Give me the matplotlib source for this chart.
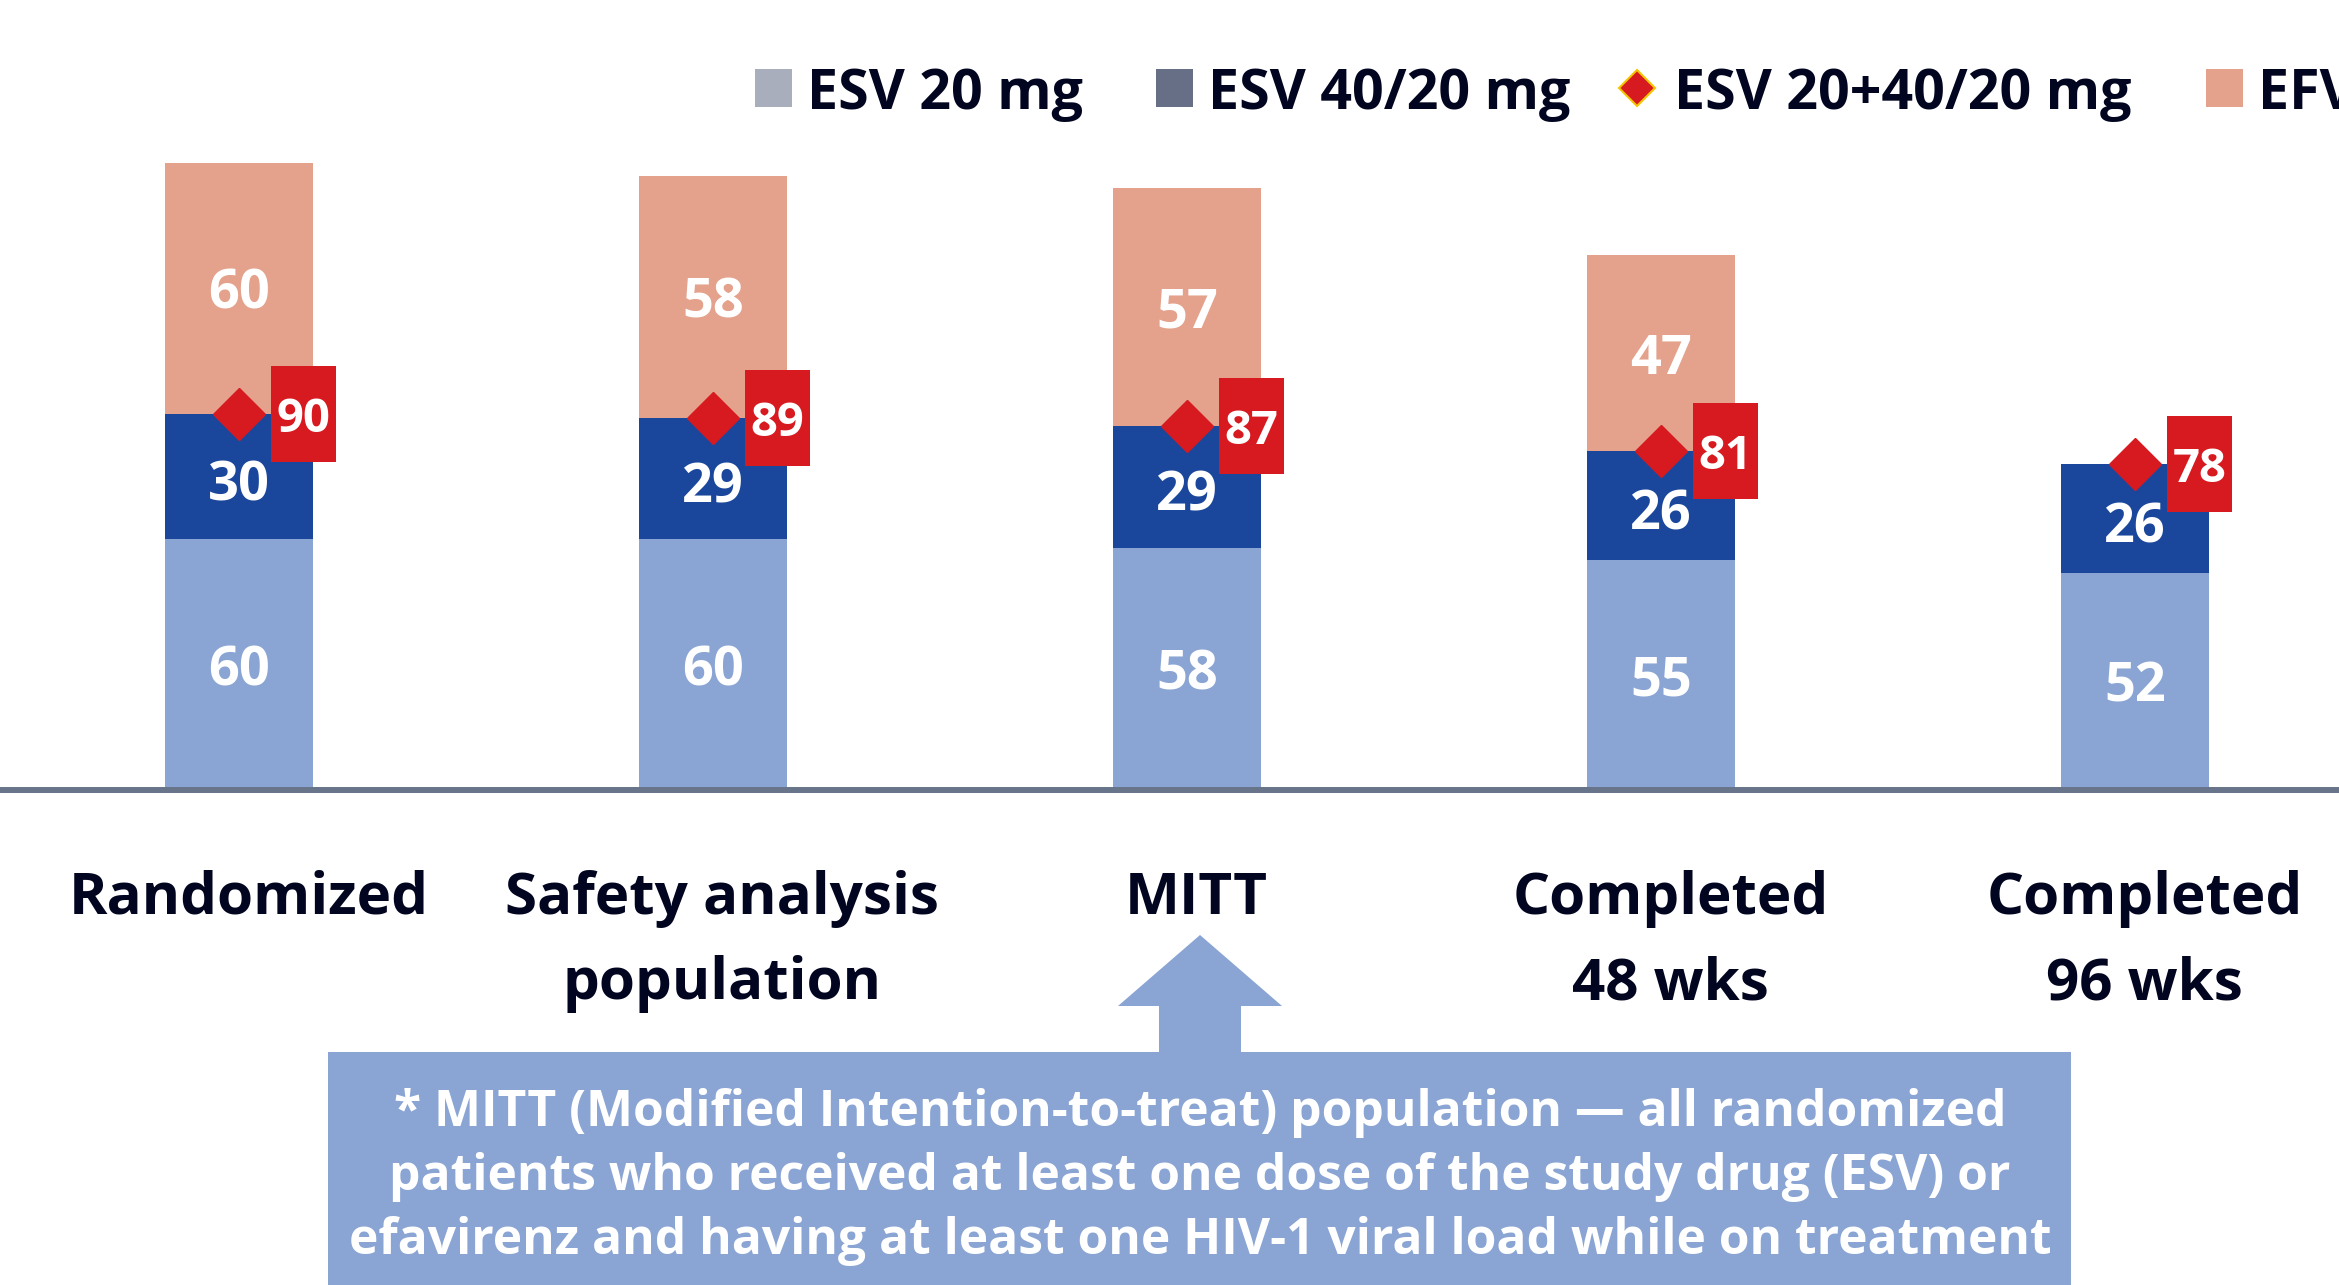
import matplotlib
matplotlib.use("Agg")
import matplotlib.pyplot as plt
import numpy as np
from matplotlib.patches import Polygon, Rectangle
from matplotlib.lines import Line2D
from matplotlib.transforms import blended_transform_factory

plt.rcParams['font.family'] = ['Open Sans', 'DejaVu Sans']
plt.rcParams['font.weight'] = 'bold'

# data
categories = ["Randomized", "Safety analysis\npopulation", "MITT", "Completed\n48 wks", "Completed\n96 wks"]
esv20 = [60, 60, 58, 55, 52]
esv40 = [30, 29, 29, 26, 26]
efv = [60, 58, 57, 47, 0]   # no EFV arm after 48 weeks
legend_labels = ["ESV 20 mg", "ESV 40/20 mg", "ESV 20+40/20 mg", "EFV 600 mg"]
note_lines = ["* MITT (Modified Intention-to-treat) population \u2014 all randomized",
              "patients who received at least one dose of the study drug (ESV) or",
              "efavirenz and having at least one HIV-1 viral load while on treatment"]

LIGHT = '#8aa5d4'
DARK = '#1a479c'
SALMON = '#e4a18b'
RED = '#d71920'
NAVY = '#02051f'
AXIS = '#677489'
LEG_COLORS = ['#a8aebb', '#666f85', RED, SALMON]

W, H = 2339, 1285


def fx(px):
    return px / W


def fy(py):
    return 1 - py / H


fig = plt.figure(figsize=(W / 100, H / 100), dpi=100)
ax = fig.add_axes([0, fy(790), 1, 160 * 4.18 / H])

x = np.arange(len(categories))
esv20 = np.array(esv20)
esv40 = np.array(esv40)
efv = np.array(efv)
esv_total = esv20 + esv40

bw = 148 / 474
ax.bar(x, esv20, width=bw, color=LIGHT, zorder=2)
ax.bar(x, esv40, bottom=esv20, width=bw, color=DARK, zorder=2)
ax.bar(x, efv, bottom=esv_total, width=bw, color=SALMON, zorder=2)

seg_font = dict(color='white', fontsize=39, fontweight='bold', ha='center', va='center_baseline')
for xi, a, b, c in zip(x, esv20, esv40, efv):
    ax.text(xi, a / 2, str(a), **seg_font, zorder=6)
    ax.text(xi, a + b / 2 - 0.8, str(b), **seg_font, zorder=6)
    if c > 0:
        ax.text(xi, a + b + c / 2, str(c), **seg_font, zorder=6)

# ESV total: diamond + red box label
box_h = 96 / 4.18
box_w = 65 / 474
box_off = 32 / 474
ax.plot(x, esv_total, 'D', ms=26, color=RED, ls='none', zorder=4)
ax.bar(x + box_off, box_h, bottom=esv_total - box_h / 2, width=box_w, align='edge', color=RED, zorder=5)
for xi, t in zip(x, esv_total):
    ax.text(xi + box_off + box_w / 2, t, str(t), color='white', fontsize=34, fontweight='bold',
            ha='center', va='center_baseline', zorder=7)

ax.set_xlim(-239 / 474, (W - 239) / 474)
ax.set_ylim(0, 160)
for s in ['top', 'left', 'right']:
    ax.spines[s].set_visible(False)
ax.spines['bottom'].set_color(AXIS)
ax.spines['bottom'].set_linewidth(4.3)
ax.spines['bottom'].set_zorder(3)
ax.set_yticks([])
ax.set_xticks([])
ax.patch.set_alpha(0)

# category labels, one line at a time
tr = blended_transform_factory(ax.transData, fig.transFigure)
for xi, cat in zip(x, categories):
    for k, line in enumerate(cat.split("\n")):
        ax.text(xi + 0.02, fy(914 + 85 * k), line, transform=tr, ha='center', va='baseline',
                fontsize=42, fontweight='bold', color=NAVY)

# legend, laid out by hand (the right end runs off the figure as in the original)
leg_x = [755, 1156, 1618, 2206]
for lx, col, lab in zip(leg_x, LEG_COLORS, legend_labels):
    if col == RED:
        fig.add_artist(Line2D([fx(lx + 19)], [fy(88)], marker='D', ls='none', mfc=RED,
                              mec='#f5c400', mew=1.5, ms=18.5, transform=fig.transFigure))
        tx = lx + 56
    else:
        fig.add_artist(Rectangle((fx(lx), fy(107)), fx(37), 38 / H, color=col, lw=0,
                                 transform=fig.transFigure))
        tx = lx + 52
    fig.text(fx(tx), fy(109), lab, ha='left', va='baseline', fontsize=40, fontweight='bold',
             color=NAVY)

# arrow pointing at MITT and the note box
arrow = [(1200, 935), (1282, 1006), (1241, 1006), (1241, 1054), (1159, 1054), (1159, 1006), (1118, 1006)]
fig.patches.append(Polygon([(fx(a), fy(b)) for a, b in arrow], closed=True, color=LIGHT,
                           transform=fig.transFigure, lw=0))
fig.patches.append(Rectangle((fx(328), 0), fx(2071) - fx(328), fy(1052), color=LIGHT,
                             transform=fig.transFigure, lw=0))
for k, line in enumerate(note_lines):
    fig.text(fx(1200), fy(1126 + 64 * k), line, ha='center', va='baseline', color='white',
             fontsize=35.8, fontweight='bold')

fig.savefig("out.png", dpi=100)
